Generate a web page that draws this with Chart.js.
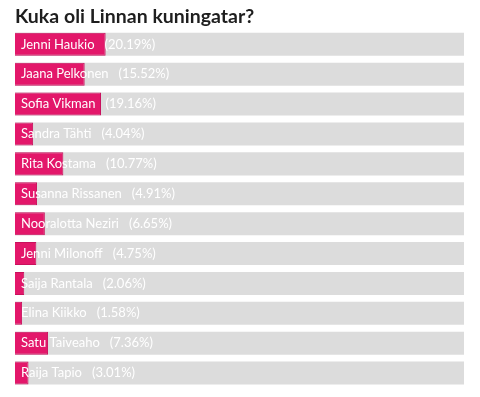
<!DOCTYPE html>
<html>
<head>
<meta charset="utf-8">
<script src="https://cdn.jsdelivr.net/npm/chart.js@4.4.0/dist/chart.umd.min.js"></script>
<style>
  html, body { margin: 0; padding: 0; background: #fff; }
  #wrap { width: 480px; height: 397px; }
</style>
</head>
<body>
<div id="wrap"><canvas id="pollChart"></canvas></div>
<script>
// poll data
const candidates = ['Jenni Haukio', 'Jaana Pelkonen', 'Sofia Vikman', 'Sandra Tähti', 'Rita Kostama',
    'Susanna Rissanen', 'Nooralotta Neziri', 'Jenni Milonoff', 'Saija Rantala', 'Elina Kiikko',
    'Satu Taiveaho', 'Raija Tapio'];
const shares = [20.19, 15.52, 19.16, 4.04, 10.77, 4.91, 6.65, 4.75, 2.06, 1.58, 7.36, 3.01];
const trackMax = [100, 100, 100, 100, 100, 100, 100, 100, 100, 100, 100, 100];

// white labels on top of the bars
const labelPlugin = {
    id: 'barLabels',
    afterDatasetsDraw(chart) {
        const ctx = chart.ctx;
        const meta = chart.getDatasetMeta(0);
        const left = chart.chartArea.left + 6;
        ctx.save();
        ctx.fillStyle = '#ffffff';
        ctx.textBaseline = 'middle';
        ctx.font = '13px Lato';
        meta.data.forEach((bar, i) => {
            const name = candidates[i];
            ctx.fillText(name, left, bar.y);
            const w = ctx.measureText(name).width;
            ctx.fillText('(' + shares[i].toFixed(2) + '%)', left + w + 10, bar.y);
        });
        ctx.restore();
    }
};

const pollCtx = document.getElementById('pollChart').getContext('2d');
new Chart(pollCtx, {
    type: 'bar',
    data: {
        labels: candidates,
        datasets: [{
            data: shares,
            backgroundColor: '#e3176a',
            borderColor: '#c8115d',
            borderWidth: 1,
            grouped: false,
            order: 1,
            categoryPercentage: 0.77,
            barPercentage: 1
        }, {
            data: trackMax,
            backgroundColor: '#dcdcdc',
            borderWidth: 0,
            grouped: false,
            order: 2,
            categoryPercentage: 0.77,
            barPercentage: 1
        }]
    },
    options: {
        indexAxis: 'y',
        responsive: true,
        maintainAspectRatio: false,
        animation: false,
        layout: {
            padding: { left: 15, right: 16, top: 0, bottom: 9 }
        },
        plugins: {
            legend: { display: false },
            tooltip: { enabled: false },
            title: {
                display: true,
                text: 'Kuka oli Linnan kuningatar?',
                align: 'start',
                color: '#1e1e1e',
                font: { family: 'Lato', size: 19.5, weight: 'bold', lineHeight: 1.2 },
                padding: { top: 5, bottom: 1 }
            }
        },
        scales: {
            x: { display: false, min: 0, max: 100 },
            y: { display: false }
        }
    },
    plugins: [labelPlugin]
});
</script>
</body>
</html>
